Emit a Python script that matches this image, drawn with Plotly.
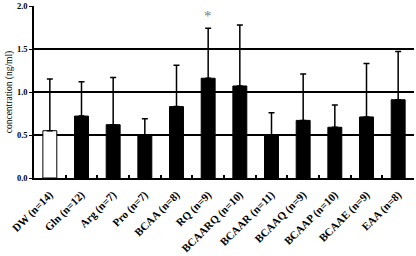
import plotly.graph_objects as go

categories = ["DW (n=14)", "Gln (n=12)", "Arg (n=7)", "Pro (n=7)", "BCAA (n=8)", "RQ (n=9)",
              "BCAARQ (n=10)", "BCAAR (n=11)", "BCAAQ (n=9)", "BCAAP (n=10)", "BCAAE (n=9)", "EAA (n=8)"]
means = [0.55, 0.72, 0.62, 0.50, 0.83, 1.16, 1.07, 0.50, 0.67, 0.59, 0.71, 0.91]
sd = [0.60, 0.40, 0.55, 0.19, 0.48, 0.58, 0.71, 0.26, 0.54, 0.26, 0.62, 0.56]
significant = [False, False, False, False, False, True, False, False, False, False, False, False]
ytick_vals = [0.0, 0.5, 1.0, 1.5, 2.0]

font = "Liberation Serif"
colors = ["white"] + ["black"] * (len(categories) - 1)

fig = go.Figure()
fig.add_trace(go.Bar(
    x=categories, y=means,
    marker=dict(color=colors, line=dict(color="black", width=1)),
    error_y=dict(type="data", array=sd, arrayminus=[0] * len(sd), symmetric=False,
                 color="black", thickness=1.5, width=3),
))

for c, m, s, sig in zip(categories, means, sd, significant):
    if sig:
        fig.add_annotation(x=c, y=m + s + 0.03, text="*", showarrow=False,
                           font=dict(family=font, size=15, color="#7a7a7a"), yanchor="bottom")

fig.update_layout(
    width=416, height=256,
    margin=dict(l=34, r=2, t=6, b=78),
    plot_bgcolor="white", paper_bgcolor="white",
    bargap=0.56, showlegend=False,
    font=dict(family=font, size=9, color="black"),
)
fig.update_xaxes(
    automargin=False,
    showline=True, linecolor="black", linewidth=2, mirror=False,
    ticks="inside", tickson="boundaries", ticklen=3, tickcolor="black", tickwidth=1.5,
    tickangle=-45, tickfont=dict(family=font, size=11, color="black", weight="bold"),
    ticklabelstandoff=4,
    showgrid=False,
)
fig.update_yaxes(
    automargin=False,
    range=[0, 2], tickvals=ytick_vals, tickformat=".1f",
    showline=True, linecolor="black", linewidth=1.5,
    showgrid=True, gridcolor="black", gridwidth=1.5,
    ticks="outside", ticklen=3, tickcolor="black", tickwidth=1, zeroline=False,
    tickfont=dict(family=font, size=8.5, color="black", weight="bold"),
    title=dict(text="concentration (ng/ml)", font=dict(family=font, size=9.5, color="black"), standoff=3),
)
fig.write_html("out.html", config={"displayModeBar": False},
               post_script="document.body.style.margin='0';")
